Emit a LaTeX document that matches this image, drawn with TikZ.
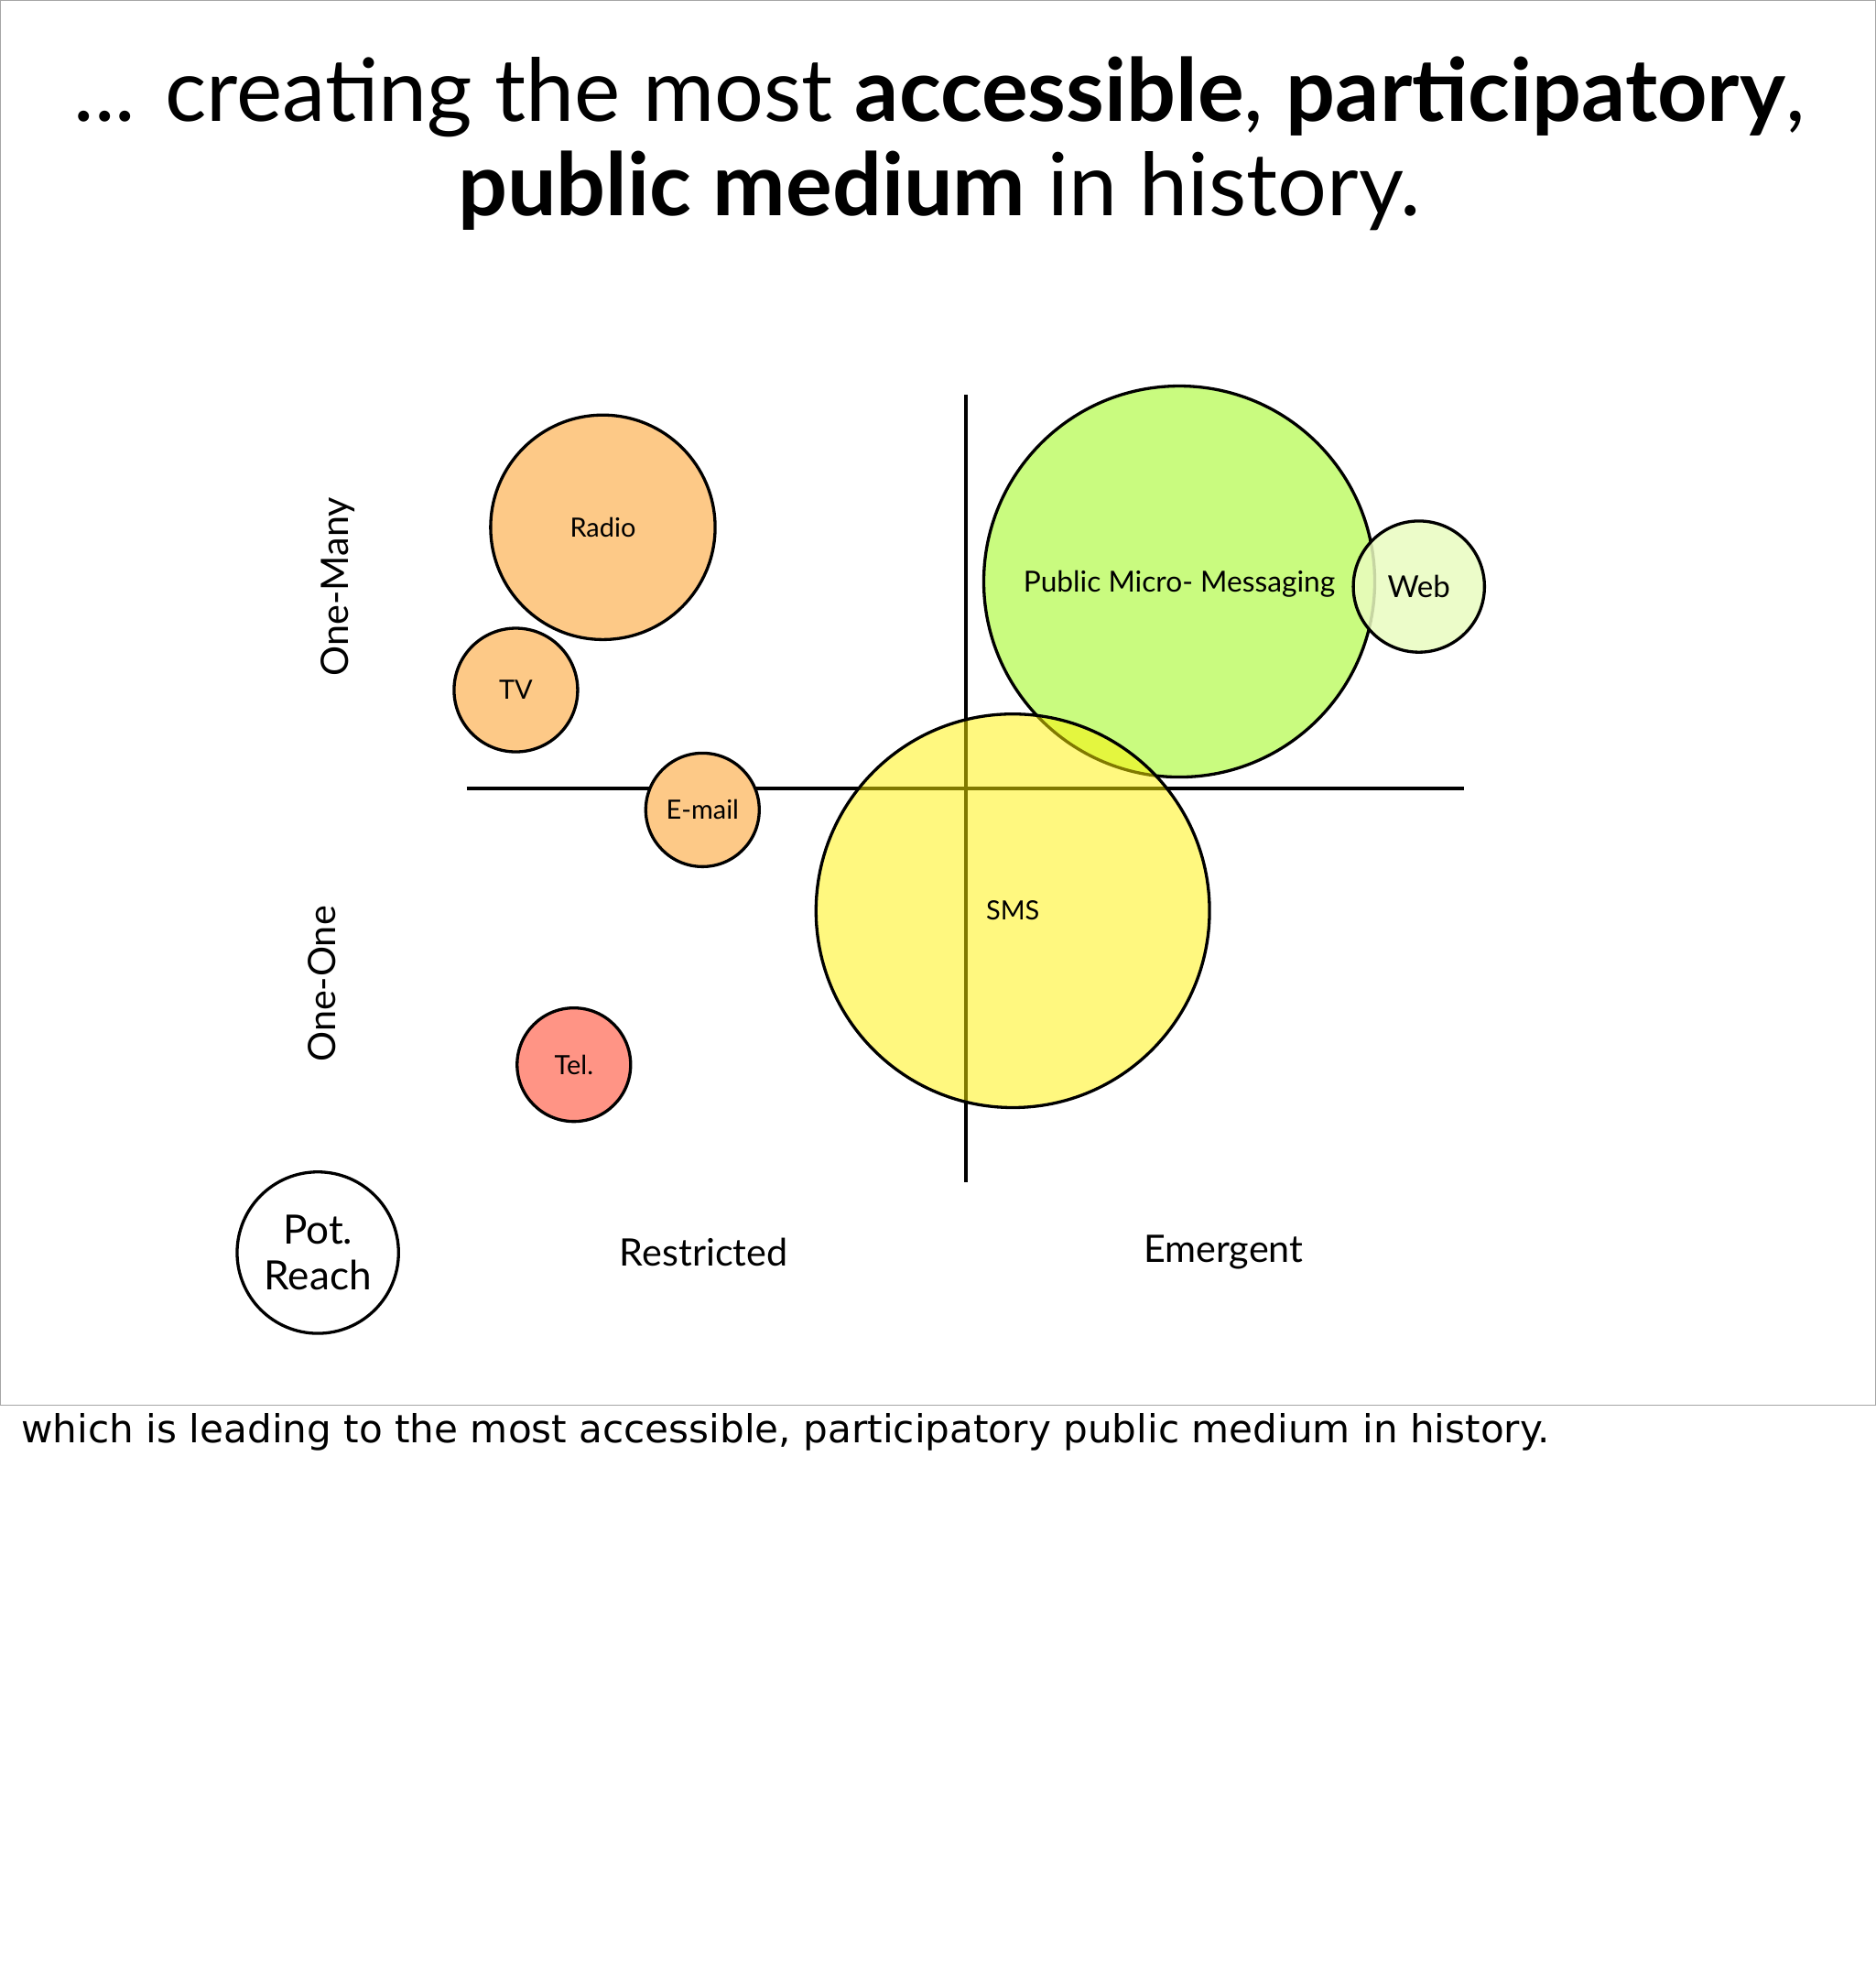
\documentclass[tikz,border=0pt]{standalone}
\usepackage{fontspec}
\setmainfont{Lato}
\newfontfamily\footfont{DejaVu Sans}
\definecolor{orng}{HTML}{FDC987}
\definecolor{telc}{HTML}{FF9485}
\definecolor{grn}{HTML}{C9FB7F}
\definecolor{webc}{HTML}{E9FBBF}
\begin{document}
\begin{tikzpicture}[x=0.5pt,y=-0.5pt,
  bub/.style={circle,draw=black,line width=1.2pt,inner sep=0pt,font=\fontsize{10.5}{12}\selectfont},
  lab/.style={font=\fontsize{15}{18}\selectfont},
  ax/.style={line width=1.6pt}]
\useasboundingbox (0,0) rectangle (1487,1568);
\draw[gray!70,line width=0.6pt] (0,0) rectangle (1487,1114);
\node[font=\fontsize{34.5}{37.5}\selectfont,align=center] (title) at (745,114)
 {... creating the most \textbf{accessible}, \textbf{participatory},\\ \textbf{public medium} in history.};
\coordinate (vt) at (766,313); \coordinate (vb) at (766,937);
\coordinate (hl) at (370,625); \coordinate (hr) at (1161,625);
\draw[ax] (vt)--(vb); \draw[ax] (hl)--(hr);
\node[bub,fill=orng,minimum size=89pt] (radio) at (478,418) {Radio};
\node[bub,fill=orng,minimum size=49pt] (tv) at (409,547) {TV};
\node[bub,fill=orng,minimum size=45pt] (email) at (557,642) {E-mail};
\node[bub,fill=telc,minimum size=45pt] (tel) at (455,844) {Tel.};
\node[bub,fill=grn,minimum size=155pt] (pmm) at (935,461) {};
\node[bub,fill=webc,fill opacity=0.85,text opacity=1,minimum size=52pt,font=\fontsize{12}{14}\selectfont] (web) at (1125,465) {Web};
\node[font=\fontsize{11.5}{13}\selectfont] (pmmt) at (935,463) {Public Micro- Messaging};
\node[bub,fill=yellow,fill opacity=0.5,text opacity=1,minimum size=156pt] (sms) at (803,722) {SMS};
\node[bub,fill=white,minimum size=64pt,font=\fontsize{16}{18}\selectfont,align=center] (pot) at (252,993) {Pot.\\Reach};
\node[lab,rotate=90] (om) at (268,465) {One-Many};
\node[lab,rotate=90] (oo) at (255,780) {One-One};
\node[lab] (res) at (558,993) {Restricted};
\node[lab] (em) at (970,993) {Emergent};
\node[anchor=west,font=\footfont\fontsize{15.3}{17}\selectfont] (foot) at (10,1135) {which is leading to the most accessible, participatory public medium in history.};
\end{tikzpicture}
\end{document}
